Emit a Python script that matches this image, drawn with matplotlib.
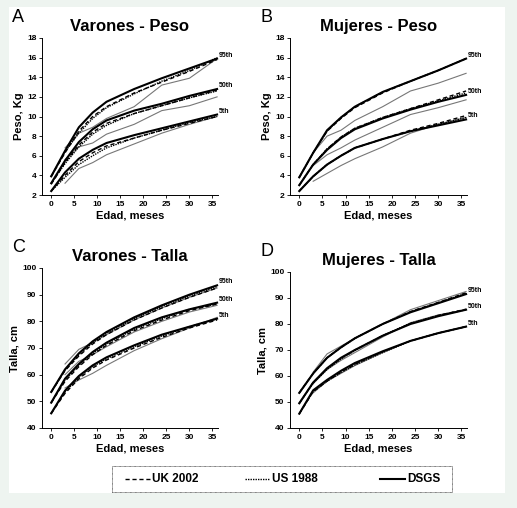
import matplotlib
matplotlib.use("Agg")
import matplotlib.pyplot as plt
from matplotlib.patches import Rectangle
from matplotlib.lines import Line2D

plt.rcParams['font.family'] = ['Liberation Sans', 'DejaVu Sans']

ages = [0, 3, 6, 9, 12, 18, 24, 30, 36]
ages_gray = [3, 6, 9, 12, 18, 24, 30, 36]

# Panel A: Varones - Peso
A_dsgs = {'95th': [3.9, 6.5, 8.9, 10.4, 11.5, 12.8, 13.9, 14.9, 15.9],
          '50th': [3.2, 5.5, 7.4, 8.7, 9.6, 10.6, 11.3, 12.1, 12.8],
          '5th':  [2.4, 4.3, 5.7, 6.6, 7.3, 8.1, 8.8, 9.5, 10.2]}
A_uk = {'95th': [3.9, 6.3, 8.5, 10.0, 11.0, 12.4, 13.5, 14.6, 15.8],
        '50th': [3.1, 5.3, 7.1, 8.4, 9.3, 10.3, 11.1, 11.9, 12.7],
        '5th':  [2.4, 4.0, 5.4, 6.3, 7.0, 7.8, 8.6, 9.3, 10.0]}
A_us = {'95th': [3.9, 6.4, 8.3, 9.8, 10.9, 12.3, 13.6, 14.7, 16.0],
        '50th': [3.2, 5.2, 6.9, 8.2, 9.1, 10.3, 11.1, 11.9, 12.6],
        '5th':  [2.4, 3.8, 5.1, 6.0, 6.8, 7.8, 8.6, 9.4, 10.0]}
A_gray = {'95th': [6.8, 8.3, 8.9, 9.8, 11.0, 13.2, 13.9, 15.9],
          '50th': [5.6, 6.9, 7.3, 8.2, 9.2, 10.6, 11.1, 12.0],
          '5th':  [3.2, 4.7, 5.3, 6.1, 7.2, 8.3, 9.2, 10.0]}

# Panel B: Mujeres - Peso
B_dsgs = {'95th': [3.8, 6.3, 8.6, 9.9, 11.0, 12.5, 13.6, 14.7, 15.9],
          '50th': [3.0, 5.1, 6.6, 7.8, 8.7, 9.8, 10.7, 11.5, 12.2],
          '5th':  [2.4, 3.9, 5.1, 6.0, 6.8, 7.7, 8.5, 9.1, 9.7]}
B_uk = {'95th': [3.8, 6.3, 8.5, 9.8, 10.9, 12.4, 13.6, 14.7, 15.9],
        '50th': [3.0, 5.1, 6.7, 7.9, 8.8, 9.9, 10.8, 11.7, 12.6],
        '5th':  [2.4, 3.9, 5.1, 6.0, 6.8, 7.7, 8.6, 9.3, 10.1]}
B_us = {'95th': [3.8, 6.3, 8.5, 9.9, 11.0, 12.5, 13.6, 14.7, 15.9],
        '50th': [3.0, 5.1, 6.7, 7.9, 8.8, 9.9, 10.8, 11.6, 12.4],
        '5th':  [2.4, 3.9, 5.1, 6.0, 6.8, 7.7, 8.5, 9.2, 9.9]}
B_gray = {'95th': [6.3, 8.0, 8.6, 9.6, 11.0, 12.6, 13.4, 14.4],
          '50th': [5.0, 6.1, 6.8, 7.6, 8.9, 10.2, 10.9, 11.7],
          '5th':  [3.4, 4.2, 5.0, 5.7, 6.9, 8.3, 9.2, 9.9]}

# Panel C: Varones - Talla
C_dsgs = {'95th': [53.5, 62.0, 68.0, 72.5, 76.0, 81.5, 86.0, 90.0, 93.5],
          '50th': [49.5, 58.5, 64.0, 68.5, 72.0, 77.5, 81.5, 84.5, 87.0],
          '5th':  [45.5, 54.0, 59.5, 63.5, 66.5, 71.0, 75.0, 78.0, 81.0]}
C_uk = {'95th': [53.5, 61.5, 67.0, 71.5, 75.0, 80.5, 85.0, 89.0, 92.5],
        '50th': [49.5, 57.5, 63.0, 67.5, 71.0, 76.5, 80.5, 84.0, 86.5],
        '5th':  [45.5, 53.0, 58.5, 62.5, 65.5, 70.0, 74.0, 77.5, 80.5]}
C_us = {'95th': [53.5, 61.8, 67.5, 72.0, 75.5, 81.0, 85.5, 89.5, 93.0],
        '50th': [49.5, 58.0, 63.5, 68.0, 71.5, 77.0, 81.0, 84.5, 86.5],
        '5th':  [45.5, 53.5, 59.0, 63.0, 66.0, 70.5, 74.5, 78.0, 81.0]}
C_gray = {'95th': [64.0, 69.5, 72.0, 75.0, 80.5, 85.0, 89.0, 92.5],
          '50th': [60.0, 65.0, 67.5, 70.5, 76.0, 80.0, 83.5, 86.0],
          '5th':  [55.0, 58.0, 60.5, 63.5, 69.0, 73.5, 77.5, 81.5]}

# Panel D: Mujeres - Talla
D_dsgs = {'95th': [53.5, 61.0, 67.0, 71.0, 74.5, 80.0, 84.5, 88.0, 91.5],
          '50th': [49.5, 57.5, 63.0, 67.0, 70.0, 75.5, 80.0, 83.0, 85.5],
          '5th':  [45.5, 54.5, 58.5, 62.0, 65.0, 69.5, 73.5, 76.5, 79.0]}
D_uk = {'95th': [53.5, 61.0, 67.0, 71.0, 74.5, 80.0, 84.8, 88.3, 92.0],
        '50th': [49.5, 57.5, 62.8, 66.8, 70.0, 75.5, 80.2, 83.3, 85.7],
        '5th':  [45.5, 54.0, 58.0, 61.5, 64.5, 69.3, 73.5, 76.5, 79.0]}
D_us = {'95th': [53.5, 61.0, 67.0, 71.0, 74.5, 80.0, 84.7, 88.2, 91.8],
        '50th': [49.5, 57.3, 62.5, 66.5, 69.8, 75.5, 80.3, 83.3, 85.5],
        '5th':  [45.5, 54.0, 58.0, 61.3, 64.3, 69.0, 73.5, 76.5, 79.0]}
D_gray = {'95th': [61.5, 68.5, 71.5, 74.5, 80.0, 85.5, 89.0, 92.5],
          '50th': [57.0, 62.5, 66.0, 69.0, 75.0, 80.5, 83.5, 85.5],
          '5th':  [53.5, 58.0, 61.0, 64.0, 69.0, 73.5, 76.5, 79.0]}

panels = [
    ('A', 'Varones - Peso', 'Peso, Kg', (2, 18), list(range(2, 19, 2)), A_dsgs, A_uk, A_us, A_gray, (42, 38, 218, 195)),
    ('B', 'Mujeres - Peso', 'Peso, Kg', (2, 18), list(range(2, 19, 2)), B_dsgs, B_uk, B_us, B_gray, (290, 38, 467, 195)),
    ('C', 'Varones - Talla', 'Talla, cm', (40, 100), list(range(40, 101, 10)), C_dsgs, C_uk, C_us, C_gray, (42, 268, 218, 428)),
    ('D', 'Mujeres - Talla', 'Talla, cm', (40, 100), list(range(40, 101, 10)), D_dsgs, D_uk, D_us, D_gray, (290, 272, 467, 428)),
]

W, H = 517, 508
fig = plt.figure(figsize=(W / 100, H / 100), dpi=100, facecolor='#eef4f0')
bg = fig.add_axes([9 / W, 1 - 493 / H, (505 - 9) / W, (493 - 7) / H], zorder=-10)
bg.set_facecolor('white')
bg.set_xticks([]); bg.set_yticks([])
for s in bg.spines.values():
    s.set_visible(False)

for letter, title, ylabel, ylim, yticks, dsgs, uk, us, gray, (x0, y0, x1, y1) in panels:
    ax = fig.add_axes([x0 / W, 1 - y1 / H, (x1 - x0) / W, (y1 - y0) / H])
    ax.set_facecolor('none')
    ax.set_xlim(-2, 36.2)
    ax.set_ylim(*ylim)
    for k in ['95th', '50th', '5th']:
        ax.plot(ages_gray, gray[k], color='#777777', lw=0.8, clip_on=False)
        ax.plot(ages, us[k], color='black', lw=1.0, ls=(0, (1, 0.8)), clip_on=False)
        ax.plot(ages, uk[k], color='black', lw=1.0, ls=(0, (3, 2)), clip_on=False)
        ax.plot(ages, dsgs[k], color='black', lw=1.5, clip_on=False)
        ax.text(36.3, dsgs[k][-1], k, fontsize=5, fontweight='bold', ha='left', va='bottom')
    ax.set_xticks(range(0, 36, 5))
    ax.set_yticks(yticks)
    ax.tick_params(labelsize=6, length=2, width=0.6, pad=2)
    for lab in ax.get_xticklabels() + ax.get_yticklabels():
        lab.set_fontweight('bold')
    for s in ['top', 'right']:
        ax.spines[s].set_visible(False)
    for s in ['left', 'bottom']:
        ax.spines[s].set_linewidth(0.7)
    ax.set_xlabel('Edad, meses', fontsize=8, fontweight='bold', labelpad=2)
    ax.set_ylabel(ylabel, fontsize=8, fontweight='bold', labelpad=2)
    ax.set_title(title, fontsize=12, fontweight='bold', pad=5)
    fig.text((x0 - 30) / W, 1 - (y0 - 20) / H, letter, fontsize=13, ha='left', va='center')

fig.patches.append(Rectangle((112 / W, 1 - 492 / H), (452 - 112) / W, 26 / H,
                             transform=fig.transFigure, facecolor='white', edgecolor='#555555',
                             lw=0.6, ls=(0, (1, 0.5)), zorder=1))
items = [('UK 2002', (0, (3, 2)), 1.0, 125), ('US 1988', (0, (1, 0.8)), 1.0, 245), ('DSGS', '-', 1.5, 380)]
for label, ls, lw, xs in items:
    fig.add_artist(Line2D([xs / W, (xs + 25) / W], [1 - 479 / H] * 2, color='black', ls=ls, lw=lw,
                          transform=fig.transFigure))
    fig.text((xs + 27) / W, 1 - 479 / H, label, fontsize=8.5, fontweight='bold', va='center')

fig.savefig('out.png', dpi=100, facecolor=fig.get_facecolor())
